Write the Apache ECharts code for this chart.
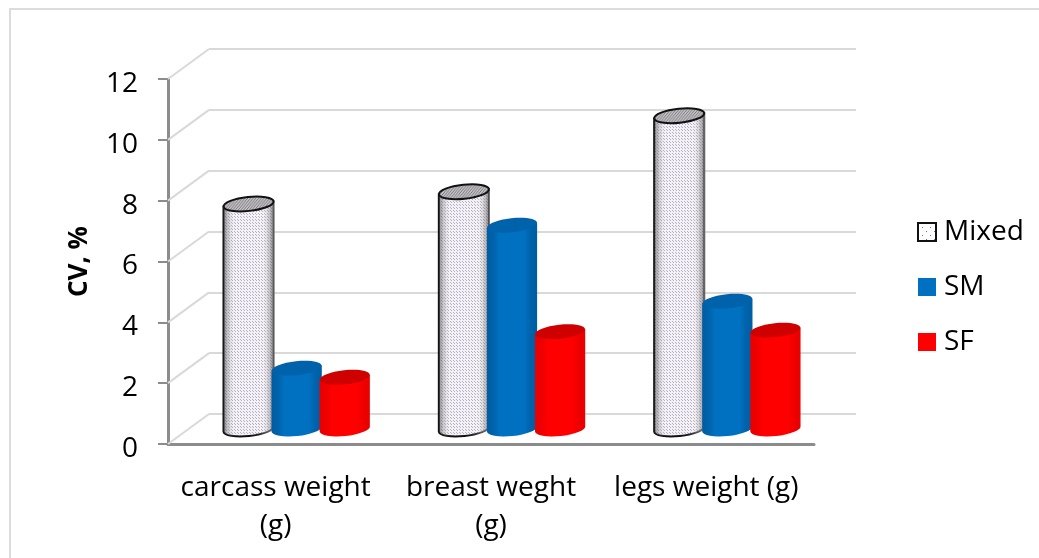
<!DOCTYPE html>
<html>
<head>
<meta charset="utf-8">
<title>CV chart</title>
<style>
  html, body { margin: 0; padding: 0; background: #fff; }
  #main { width: 1039px; height: 558px; }
</style>
<script src="https://cdn.jsdelivr.net/npm/echarts@6/dist/echarts.min.js"></script>
</head>
<body>
<div id="main"></div>
<script>
var categories = ["carcass weight\n(g)", "breast weght\n(g)", "legs weight (g)"];
var seriesNames = ["Mixed", "SM", "SF"];
var mixedValues = [7.4, 7.8, 10.3];
var smValues = [2.0, 6.7, 4.2];
var sfValues = [1.7, 3.2, 3.25];
var yTicks = [0, 2, 4, 6, 8, 10, 12];

// dotted fill used for the Mixed bars
function dotPattern(bg, dot, step) {
  var c = document.createElement("canvas");
  c.width = step;
  c.height = step;
  var ctx = c.getContext("2d");
  ctx.fillStyle = bg;
  ctx.fillRect(0, 0, step, step);
  ctx.fillStyle = dot;
  ctx.fillRect(0, 0, 1, 1);
  ctx.fillRect(Math.floor(step / 2), Math.floor(step / 2), 1, 1);
  return c;
}

function hatchPattern() {
  var c = document.createElement("canvas");
  c.width = 3;
  c.height = 3;
  var ctx = c.getContext("2d");
  ctx.fillStyle = "#c4c2c6";
  ctx.fillRect(0, 0, 3, 3);
  ctx.fillStyle = "#77757a";
  ctx.fillRect(0, 2, 1, 1);
  ctx.fillRect(1, 1, 1, 1);
  ctx.fillRect(2, 0, 1, 1);
  return c;
}

var mixedFill = { image: dotPattern("#f5f1f9", "#b5b0bb", 3), repeat: "repeat" };
var mixedIcon = { image: dotPattern("#ffffff", "#8a55c8", 8), repeat: "repeat" };
var mixedTop = { image: hatchPattern(), repeat: "repeat" };

function shade(edge, mid) {
  return {
    type: "linear", x: 0, y: 0, x2: 1, y2: 0,
    colorStops: [
      { offset: 0, color: edge },
      { offset: 0.25, color: mid },
      { offset: 0.75, color: mid },
      { offset: 1, color: edge }
    ]
  };
}

// left edge of the Mixed bars is black, the right one fades to grey
var mixedStroke = {
  type: "linear", x: 0, y: 0, x2: 1, y2: 0,
  colorStops: [
    { offset: 0, color: "#111" },
    { offset: 0.6, color: "#111" },
    { offset: 1, color: "#777" }
  ]
};

var barStyles = [
  { body: mixedFill, over: shade("rgba(40,40,40,0.55)", "rgba(255,255,255,0)"), top: mixedTop, stroke: mixedStroke, topStroke: "#111", lineWidth: 2 },
  { body: "#0070c0", over: shade("rgba(0,50,110,0.3)", "rgba(0,0,0,0)"), top: "#0062ab", stroke: null, topStroke: null, lineWidth: 0 },
  { body: "#ff0000", over: shade("rgba(140,0,0,0.18)", "rgba(0,0,0,0)"), top: "#cf0000", stroke: null, topStroke: null, lineWidth: 0 }
];

// offsets as parts of a category band
var barStep = 0.2233;
var barWidth = 0.233;
var depthX = 21;
var depthY = 15;
var tilt = -6;

function cylinder(idx) {
  return function (params, api) {
    var band = api.size([1, 0])[0];
    var top = api.coord([api.value(0), api.value(1)]);
    var base = api.coord([api.value(0), 0]);
    var cx = top[0] + depthX + (idx - 1) * band * barStep;
    var w = band * barWidth;
    var rx = w / 2;
    var ry = 7;
    var yt = top[1] - depthY;
    var yb = base[1] - depthY;
    var rise = 2.6;
    var x0 = cx - rx;
    var x1 = cx + rx;
    var s = barStyles[idx];
    var path =
      "M" + x0 + " " + (yt + rise) +
      "L" + x0 + " " + (yb + rise) +
      "A" + rx + " " + ry + " " + tilt + " 0 0 " + x1 + " " + (yb - rise) +
      "L" + x1 + " " + (yt - rise) + "Z";
    return {
      type: "group",
      children: [
        {
          type: "path",
          shape: { pathData: path },
          style: { fill: s.body, stroke: s.stroke, lineWidth: s.lineWidth }
        },
        {
          type: "path",
          shape: { pathData: path },
          style: { fill: s.over }
        },
        {
          type: "ellipse",
          x: cx,
          y: yt,
          rotation: -tilt * Math.PI / 180,
          shape: { cx: 0, cy: 0, rx: rx, ry: ry },
          style: { fill: s.top, stroke: s.topStroke, lineWidth: s.lineWidth }
        }
      ]
    };
  };
}

function barSeries(idx, values) {
  return {
    type: "custom",
    name: seriesNames[idx],
    xAxisIndex: 0,
    yAxisIndex: 0,
    z: 5 + idx,
    renderItem: cylinder(idx),
    encode: { x: 0, y: 1 },
    data: values.map(function (v, i) { return [i, v]; }),
    clip: false
  };
}

// slanted lines joining the front axis to the back wall
var wallDX = 41;
var wallDY = -30;

var myChart = echarts.init(document.getElementById("main"), null, { renderer: "canvas" });
var fontName = "Open Sans";

var option = {
  backgroundColor: "#fff",
  animation: false,
  graphic: [
    {
      type: "polyline",
      shape: { points: [[10, 558], [10, 9], [1039, 9]] },
      style: { fill: "none", stroke: "#dcdcdc", lineWidth: 2 },
      silent: true,
      z: 0
    }
  ],
  legend: {
    orient: "vertical",
    left: 912,
    top: 213,
    itemWidth: 18,
    itemHeight: 18,
    itemGap: 27,
    textStyle: { fontFamily: fontName, fontSize: 28, color: "#000", padding: [0, 0, 0, 3] },
    selectedMode: false,
    data: [
      { name: "Mixed", icon: "rect", itemStyle: { color: mixedIcon, borderColor: "#111", borderWidth: 2 } },
      { name: "SM", icon: "rect", itemStyle: { color: "#0070c0", borderWidth: 0 } },
      { name: "SF", icon: "rect", itemStyle: { color: "#ff0000", borderWidth: 0 } }
    ]
  },
  grid: [
    { left: 168, right: 225, top: 79, bottom: 114 },
    { left: 209, right: 183, top: 49, bottom: 144 }
  ],
  xAxis: [
    {
      type: "category",
      gridIndex: 0,
      data: categories,
      axisLine: { lineStyle: { color: "#8c8c8c", width: 3 } },
      axisTick: { show: false },
      axisLabel: { interval: 0, fontFamily: fontName, fontSize: 28, color: "#000", margin: 25, lineHeight: 38 }
    },
    { type: "category", gridIndex: 1, data: categories, show: false }
  ],
  yAxis: [
    {
      type: "value",
      gridIndex: 0,
      min: 0,
      max: 12,
      interval: 2,
      name: "CV, %",
      nameLocation: "middle",
      nameGap: 75,
      nameRotate: 90,
      nameTextStyle: { fontFamily: fontName, fontSize: 26, fontWeight: "bold", color: "#000" },
      axisLine: { show: true, lineStyle: { color: "#8c8c8c", width: 3 } },
      axisTick: { show: true, length: 10, lineStyle: { color: "#8c8c8c", width: 2 } },
      axisLabel: {
        margin: 30,
        formatter: "{t|{value}}",
        rich: { t: { fontFamily: fontName, fontSize: 28, color: "#000", padding: [10, 0, 0, 0] } }
      },
      splitLine: { show: false }
    },
    {
      type: "value",
      gridIndex: 1,
      min: 0,
      max: 12,
      interval: 2,
      axisLine: { show: false },
      axisTick: { show: false },
      axisLabel: { show: false },
      splitLine: { show: true, lineStyle: { color: "#d9d9d9", width: 2 } }
    }
  ],
  series: [
    {
      type: "custom",
      name: "wall",
      xAxisIndex: 0,
      yAxisIndex: 0,
      z: 1,
      silent: true,
      renderItem: function (params, api) {
        var p = api.coord([0, api.value(0)]);
        var x0 = p[0] - api.size([1, 0])[0] / 2;
        return {
          type: "line",
          shape: { x1: x0, y1: p[1], x2: x0 + wallDX, y2: p[1] + wallDY },
          style: { stroke: "#d9d9d9", lineWidth: 2 }
        };
      },
      encode: { y: 0 },
      data: yTicks.map(function (t) { return [t]; }),
      clip: false
    },
    barSeries(0, mixedValues),
    barSeries(1, smValues),
    barSeries(2, sfValues)
  ]
};

myChart.setOption(option);
</script>
</body>
</html>
